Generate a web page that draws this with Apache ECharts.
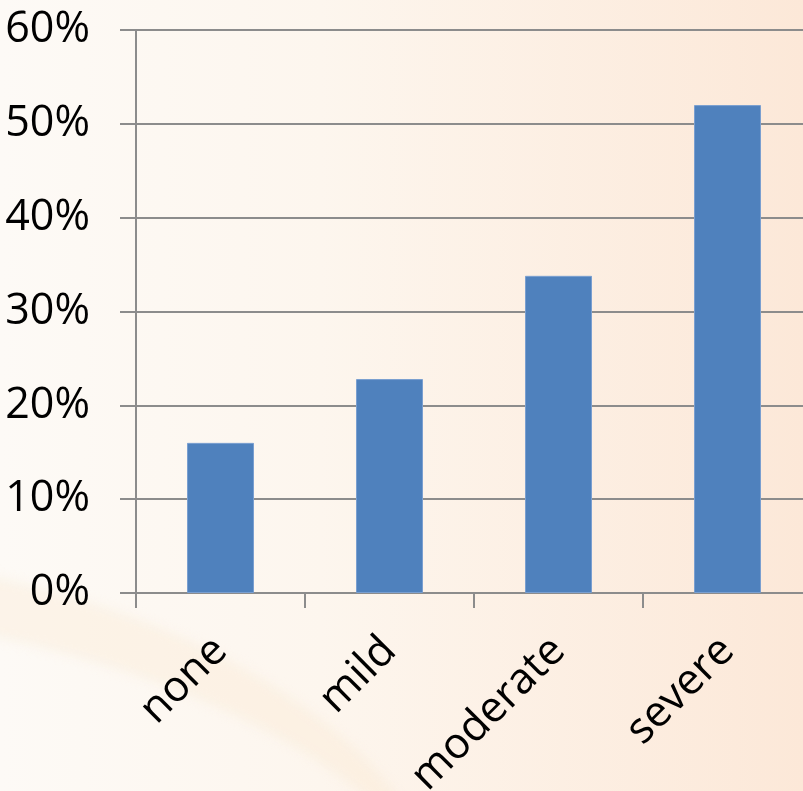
<!DOCTYPE html>
<html><head><meta charset="utf-8">
<script src="https://cdn.jsdelivr.net/npm/echarts@6/dist/echarts.min.js"></script>
<style>
html,body{margin:0;padding:0;}
#wrap{position:relative;width:803px;height:791px;overflow:hidden;
  background:linear-gradient(90deg,#fdfaf6 0%,#fdf6ee 40%,#fce8d8 100%);}
#sw{position:absolute;left:-700px;top:560px;width:1150px;height:560px;border-radius:50%;
  border-top:60px solid rgba(248,226,196,0.28);transform:rotate(8deg);filter:blur(6px);}
#c{position:absolute;left:0;top:0;width:803px;height:791px;}
</style>
</head><body><div id="wrap"><div id="sw"></div><div id="c"></div></div>
<script>
const categories = ['none', 'mild', 'moderate', 'severe'];
const values = [16, 22.8, 33.8, 52];
const yTicks = [0, 10, 20, 30, 40, 50, 60];

const chart = echarts.init(document.getElementById('c'));
chart.setOption({
  animation: false,
  backgroundColor: 'transparent',
  grid: {left: 136, top: 30, width: 676, height: 563, outerBoundsMode: 'none', containLabel: false},
  xAxis: {
    type: 'category',
    data: categories,
    axisLine: {lineStyle: {color: '#8c8c8c', width: 2}},
    axisTick: {show: true, length: 15, lineStyle: {color: '#8c8c8c', width: 2}},
    axisLabel: {rotate: 45, margin: 51, fontSize: 43, color: '#000', fontFamily: 'Open Sans', interval: 0}
  },
  yAxis: {
    type: 'value',
    min: 0, max: 60, interval: 10,
    axisLine: {show: true, lineStyle: {color: '#8c8c8c', width: 2}},
    axisTick: {show: true, length: 16, lineStyle: {color: '#8c8c8c', width: 2}},
    splitLine: {lineStyle: {color: '#8c8c8c', width: 2}},
    axisLabel: {margin: 46, fontSize: 43, color: '#000', fontFamily: 'Open Sans',
      formatter: v => yTicks.includes(v) ? v + '%' : ''}
  },
  series: [{
    type: 'bar',
    data: values,
    barWidth: 67,
    itemStyle: {color: '#4f81bd', borderColor: '#7a9fd0', borderWidth: 1}
  }]
});
</script></body></html>
